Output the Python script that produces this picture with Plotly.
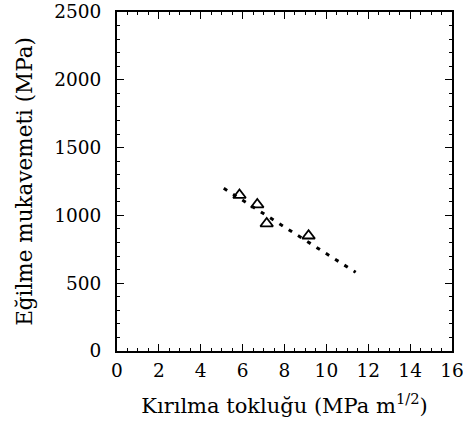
import plotly.graph_objects as go

# data
toughness = [5.85, 6.7, 7.15, 9.15]
strength = [1150, 1080, 940, 850]
fit_x = [5.1, 11.4]
fit_y = [1200, 580]
x_ticks = [0, 2, 4, 6, 8, 10, 12, 14, 16]
y_ticks = [0, 500, 1000, 1500, 2000, 2500]

fig = go.Figure()
fig.add_trace(go.Scatter(x=fit_x, y=fit_y, mode="lines",
                         line=dict(color="black", width=3, dash="4px,7px"),
                         showlegend=False))
fig.add_trace(go.Scatter(x=toughness, y=strength, mode="markers",
                         marker=dict(symbol="triangle-up-open", size=11,
                                     color="black", line=dict(width=1.8, color="black")),
                         showlegend=False))

FAM = "DejaVu Serif"
tick_font = dict(family=FAM, size=18.5, color="black")
axis_common = dict(showgrid=False, zeroline=False, showline=True, linecolor="black",
                   linewidth=2, mirror="allticks", ticks="inside", ticklen=7,
                   tickwidth=1, tickcolor="black", tickfont=tick_font,
                   ticklabeloverflow="allow")

fig.update_xaxes(range=[0, 16], tickvals=x_ticks, ticktext=[str(v) for v in x_ticks],
                 minor=dict(ticks="inside", ticklen=3, dtick=0.5, tickcolor="black"),
                 ticklabelstandoff=2, automargin="bottom",
                 title=dict(text="Kırılma tokluğu (MPa m<sup>1/2</sup>)",
                            font=dict(family=FAM, size=21, color="black"), standoff=18),
                 **axis_common)
fig.update_yaxes(range=[0, 2500], tickvals=y_ticks, ticktext=[str(v) for v in y_ticks],
                 minor=dict(ticks="inside", ticklen=3, dtick=100, tickcolor="black"),
                 ticklabelstandoff=10, automargin="left",
                 title=dict(text="Eğilme mukavemeti (MPa)",
                            font=dict(family=FAM, size=21.5, color="black"), standoff=16),
                 **axis_common)

fig.update_layout(width=463, height=436, margin=dict(l=117, r=11, t=12, b=85),
                  paper_bgcolor="white", plot_bgcolor="white", font=dict(family=FAM, color="black"))
fig.write_html("out.html")
